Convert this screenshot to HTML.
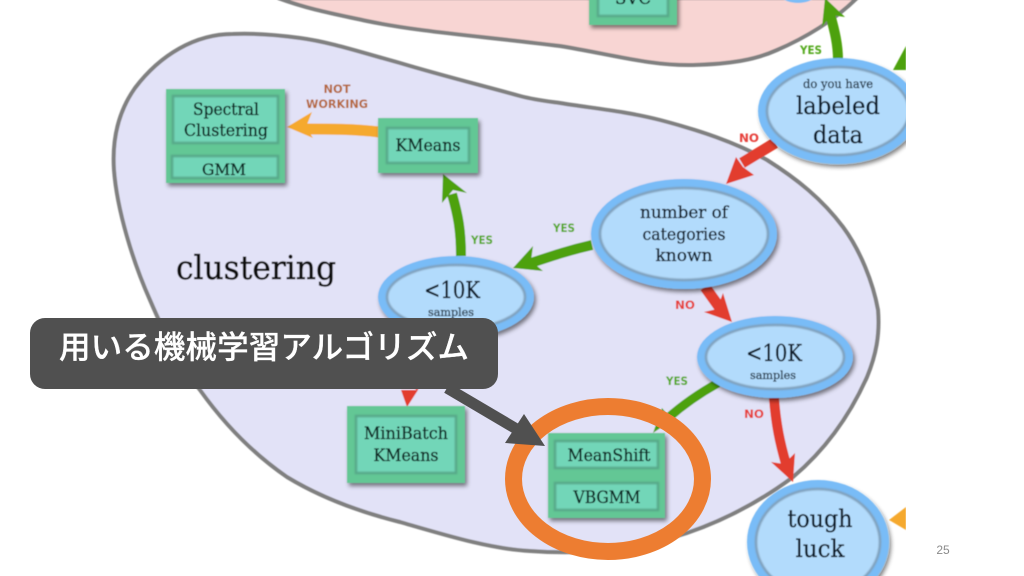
<!DOCTYPE html>
<html lang="ja"><head><meta charset="utf-8"><title>clustering</title>
<style>html,body{margin:0;padding:0;background:#fff;width:1024px;height:576px;overflow:hidden}svg{display:block}</style>
</head><body>
<svg xmlns="http://www.w3.org/2000/svg" width="1024" height="576" viewBox="0 0 1024 576">
<defs>
<filter id="soft" x="-5%" y="-5%" width="110%" height="110%"><feGaussianBlur stdDeviation="0.6"/></filter>
<filter id="sh" x="-20%" y="-20%" width="140%" height="140%"><feGaussianBlur in="SourceAlpha" stdDeviation="2"/><feOffset dx="2" dy="3"/><feComponentTransfer><feFuncA type="linear" slope="0.5"/></feComponentTransfer><feMerge><feMergeNode/><feMergeNode in="SourceGraphic"/></feMerge></filter>
<filter id="in" x="-10%" y="-10%" width="120%" height="120%"><feGaussianBlur stdDeviation="0.9"/></filter>
<clipPath id="img"><rect x="0" y="0" width="906" height="576"/></clipPath>
</defs>
<g clip-path="url(#img)"><g filter="url(#soft)">
<path d="M278,-2 C310,10 340,15 367,21 C420,32 480,36 560,46 C610,54 650,66 693,65 C730,64 755,60 777,50 C805,38 835,20 857,-2 Z" fill="#f8d5d3" stroke="#808080" stroke-width="4"/>
<path d="M233,34 C195,34 160,55 135,88 C118,112 112,140 114,170 C117,210 133,262 150,300 C165,335 180,365 200,390 C225,425 255,455 287,477 C320,497 360,512 400,522 C445,535 490,549 530,551 C585,555 635,550 687,533 C725,520 762,500 793,477 C825,450 850,415 867,377 C876,355 880,335 878,310 C873,282 860,250 843,227 C822,199 797,179 767,160 C735,142 698,130 660,120 C625,111 590,108 560,103 C545,101 535,100 520,96 C480,85 440,75 400,63 C360,52 330,42 300,38 C278,35 255,33 233,34 Z" fill="#e2e2f7" stroke="#808080" stroke-width="4"/>

<!-- svc box -->
<g filter="url(#sh)"><rect x="589" y="-20" width="88" height="45" fill="#63c795"/></g>
<rect x="598" y="-20" width="70" height="36" fill="#72d6b8" stroke="#56a888" stroke-width="2.5" filter="url(#in)"/>
<text x="633" y="4" font-family="'DejaVu Serif',serif" font-size="17" text-anchor="middle" fill="#0c2622" stroke="#0c2622" stroke-width="0.35" textLength="36" lengthAdjust="spacingAndGlyphs">SVC</text>
<ellipse cx="798" cy="-22" rx="28" ry="25" fill="#7dbdf6"/>

<!-- arrows -->
<path d="M379,132 C355,129 330,129 305,129" fill="none" stroke="#f5a92f" stroke-width="11"/>
<path d="M287,127 L312,112 L306,127 L313,138 Z" fill="#f5a92f"/>
<path d="M461,256 C461,230 458,215 452,194" fill="none" stroke="#4ea10d" stroke-width="10"/>
<path d="M443,174 L467,193 L453,190 L442,203 Z" fill="#4ea10d"/>
<path d="M592,245 C570,250 555,255 531,263" fill="none" stroke="#4ea10d" stroke-width="10"/>
<path d="M513,268 L533,246 L531,261 L543,271 Z" fill="#4ea10d"/>
<path d="M838,60 C838,45 835,32 830,14" fill="none" stroke="#4ea10d" stroke-width="10"/>
<path d="M825,-2 L845,17 L831,15 L822,27 Z" fill="#4ea10d"/>
<path d="M893,70 L906,46 L906,70 Z" fill="#4ea10d"/>
<path d="M775,143 L742,163" fill="none" stroke="#e23e2e" stroke-width="11"/>
<path d="M726,184 L736,157 L743,167 L754,175 Z" fill="#e23e2e"/>
<path d="M705,287 L720,308" fill="none" stroke="#e23e2e" stroke-width="11"/>
<path d="M732,322 L704,312 L717,309 L723,293 Z" fill="#e23e2e"/>
<path d="M718,383 C700,393 685,403 668,418" fill="none" stroke="#4ea10d" stroke-width="9"/>
<path d="M653,433 L662,408 L672,420 Z" fill="#4ea10d"/>
<path d="M774,398 C776,425 780,443 786,464" fill="none" stroke="#e23e2e" stroke-width="10"/>
<path d="M793,482 L771,462 L784,464 L795,453 Z" fill="#e23e2e"/>
<path d="M420,380 L414,388" fill="none" stroke="#e23e2e" stroke-width="8"/>
<path d="M407,407 L401,390 L418,390 Z" fill="#e23e2e"/>
<path d="M889,520 L906,507 L906,530 Z" fill="#f5a92f"/>

<!-- ellipses -->
<g font-family="'DejaVu Serif','Liberation Serif',serif" fill="#101e2c" stroke="#101e2c" stroke-width="0.35" text-anchor="middle">
<ellipse cx="838" cy="111" rx="80" ry="53" fill="#79bcf7" stroke="none" filter="url(#sh)"/>
<ellipse cx="838" cy="111" rx="71" ry="44" fill="#b2dbfc" stroke="#7f9fba" stroke-width="2.5" filter="url(#in)"/>
<text x="838" y="88" font-size="12.5" textLength="70" lengthAdjust="spacingAndGlyphs" fill="#2c4052" stroke="#2c4052">do you have</text>
<text x="838" y="114" font-size="24" textLength="84" lengthAdjust="spacingAndGlyphs">labeled</text>
<text x="838" y="143" font-size="24" textLength="50" lengthAdjust="spacingAndGlyphs">data</text>

<ellipse cx="684" cy="234" rx="93" ry="55" fill="#79bcf7" stroke="none" filter="url(#sh)"/>
<ellipse cx="684" cy="234" rx="84" ry="46" fill="#b2dbfc" stroke="#7f9fba" stroke-width="2.5" filter="url(#in)"/>
<text x="684" y="218" font-size="16.5" textLength="88" lengthAdjust="spacingAndGlyphs">number of</text>
<text x="684" y="240" font-size="16.5" textLength="83" lengthAdjust="spacingAndGlyphs">categories</text>
<text x="684" y="261" font-size="16.5" textLength="57" lengthAdjust="spacingAndGlyphs">known</text>

<ellipse cx="456" cy="297" rx="78" ry="41" fill="#79bcf7" stroke="none" filter="url(#sh)"/>
<ellipse cx="456" cy="297" rx="69" ry="32" fill="#b2dbfc" stroke="#7f9fba" stroke-width="2.5" filter="url(#in)"/>
<text x="452" y="298" font-size="23" textLength="56" lengthAdjust="spacingAndGlyphs">&lt;10K</text>
<text x="451" y="316" font-size="11.5" textLength="46" lengthAdjust="spacingAndGlyphs" fill="#2c4052" stroke="#2c4052">samples</text>

<ellipse cx="775" cy="357" rx="78" ry="41" fill="#79bcf7" stroke="none" filter="url(#sh)"/>
<ellipse cx="775" cy="357" rx="69" ry="32" fill="#b2dbfc" stroke="#7f9fba" stroke-width="2.5" filter="url(#in)"/>
<text x="774" y="361" font-size="23" textLength="56" lengthAdjust="spacingAndGlyphs">&lt;10K</text>
<text x="773" y="379" font-size="11.5" textLength="46" lengthAdjust="spacingAndGlyphs" fill="#2c4052" stroke="#2c4052">samples</text>

<ellipse cx="818" cy="542" rx="71" ry="62" fill="#79bcf7" stroke="none" filter="url(#sh)"/>
<ellipse cx="818" cy="542" rx="62" ry="53" fill="#b2dbfc" stroke="#7f9fba" stroke-width="2.5" filter="url(#in)"/>
<text x="820" y="527" font-size="24.5" textLength="65" lengthAdjust="spacingAndGlyphs">tough</text>
<text x="820" y="557" font-size="24.5" textLength="49" lengthAdjust="spacingAndGlyphs">luck</text>
</g>

<!-- boxes -->
<g font-family="'DejaVu Serif','Liberation Serif',serif" fill="#0c2622" stroke="#0c2622" stroke-width="0.35" text-anchor="middle">
<rect x="166" y="89" width="119" height="94" fill="#63c795" stroke="none" filter="url(#sh)"/>
<rect x="173" y="96" width="105" height="47" fill="#72d6b8" stroke="#56a888" stroke-width="2.5" filter="url(#in)"/>
<rect x="172" y="156" width="106" height="22" fill="#72d6b8" stroke="#56a888" stroke-width="2.5" filter="url(#in)"/>
<text x="226" y="115" font-size="16.5" textLength="66" lengthAdjust="spacingAndGlyphs">Spectral</text>
<text x="226" y="136" font-size="16.5" textLength="84" lengthAdjust="spacingAndGlyphs">Clustering</text>
<text x="224" y="175" font-size="15.5" textLength="44" lengthAdjust="spacingAndGlyphs">GMM</text>

<rect x="378" y="118" width="100" height="55" fill="#63c795" stroke="none" filter="url(#sh)"/>
<rect x="387" y="128" width="82" height="35" fill="#72d6b8" stroke="#56a888" stroke-width="2.5" filter="url(#in)"/>
<text x="428" y="151" font-size="16.5" textLength="65" lengthAdjust="spacingAndGlyphs">KMeans</text>

<rect x="347" y="406" width="118" height="77" fill="#63c795" stroke="none" filter="url(#sh)"/>
<rect x="356" y="416" width="100" height="57" fill="#72d6b8" stroke="#56a888" stroke-width="2.5" filter="url(#in)"/>
<text x="406" y="439" font-size="16.5" textLength="84" lengthAdjust="spacingAndGlyphs">MiniBatch</text>
<text x="406" y="461" font-size="16.5" textLength="65" lengthAdjust="spacingAndGlyphs">KMeans</text>

<rect x="548" y="433" width="117" height="85" fill="#63c795" stroke="none" filter="url(#sh)"/>
<rect x="555" y="441" width="103" height="27" fill="#72d6b8" stroke="#56a888" stroke-width="2.5" filter="url(#in)"/>
<rect x="555" y="483" width="103" height="27" fill="#72d6b8" stroke="#56a888" stroke-width="2.5" filter="url(#in)"/>
<text x="609" y="461" font-size="16.5" textLength="83" lengthAdjust="spacingAndGlyphs">MeanShift</text>
<text x="607" y="503" font-size="16.5" textLength="67" lengthAdjust="spacingAndGlyphs">VBGMM</text>
</g>

<text x="176" y="279" font-family="'DejaVu Serif','Liberation Serif',serif" font-size="33" textLength="160" lengthAdjust="spacingAndGlyphs" fill="#111" stroke="#111" stroke-width="0.5">clustering</text>

<!-- labels -->
<g font-family="'DejaVu Sans','Liberation Sans',sans-serif" font-weight="700" font-size="11.5" text-anchor="middle">
<text x="337" y="93" fill="#b5673a" textLength="27" lengthAdjust="spacingAndGlyphs">NOT</text>
<text x="337" y="108" fill="#b5673a" textLength="62" lengthAdjust="spacingAndGlyphs">WORKING</text>
<text x="482" y="244" fill="#52a81c" textLength="22" lengthAdjust="spacingAndGlyphs">YES</text>
<text x="564" y="232" fill="#52a81c" textLength="22" lengthAdjust="spacingAndGlyphs">YES</text>
<text x="811" y="54" fill="#52a81c" textLength="22" lengthAdjust="spacingAndGlyphs">YES</text>
<text x="677" y="385" fill="#52a81c" textLength="22" lengthAdjust="spacingAndGlyphs">YES</text>
<text x="749" y="142" fill="#e6403a" textLength="20" lengthAdjust="spacingAndGlyphs">NO</text>
<text x="685" y="309" fill="#e6403a" textLength="20" lengthAdjust="spacingAndGlyphs">NO</text>
<text x="754" y="418" fill="#e6403a" textLength="20" lengthAdjust="spacingAndGlyphs">NO</text>
</g>
</g></g>

<!-- overlays -->
<ellipse cx="608" cy="479" rx="94.5" ry="72.5" fill="none" stroke="#ed7d31" stroke-width="17"/>
<path d="M447,388 L525,434" fill="none" stroke="#505050" stroke-width="11"/>
<path d="M545,446 L505,443 L524,414 Z" fill="#505050"/>
<rect x="30" y="318" width="468" height="71" rx="15" ry="15" fill="#505050"/>
<text x="59" y="358" font-family="'Liberation Sans','Noto Sans CJK JP',sans-serif" font-size="31.5" font-weight="500" fill="#fff" stroke="#fff" stroke-width="0.3" textLength="410" lengthAdjust="spacing">用いる機械学習アルゴリズム</text>
<text x="943" y="554" font-family="'Liberation Sans',sans-serif" font-size="12" text-anchor="middle" fill="#8a8a8a">25</text>
</svg>
</body></html>
